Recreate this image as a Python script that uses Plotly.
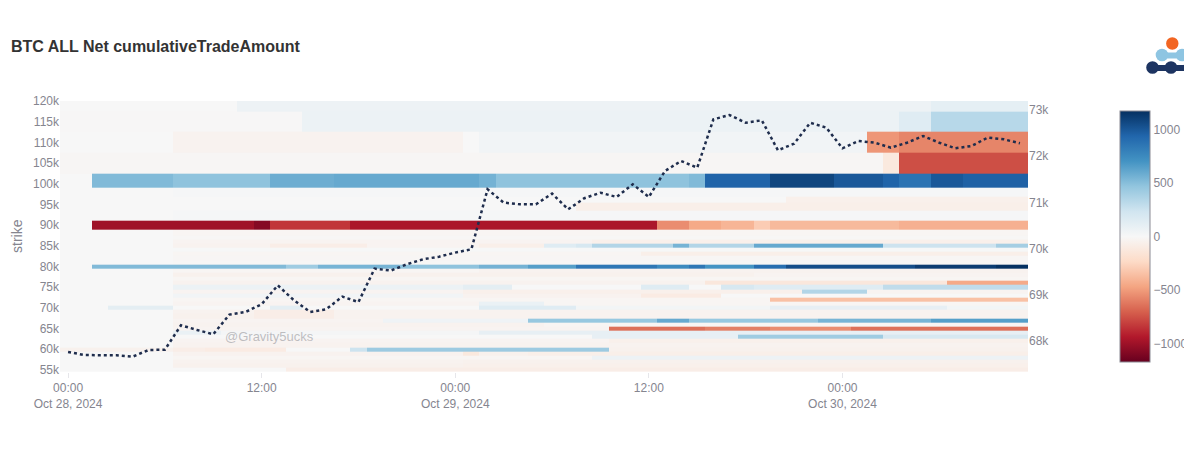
import pandas as pd
import plotly.graph_objects as go

# ---------------- data ----------------
times = pd.date_range("2024-10-28 00:00", periods=60, freq="h")

price = [67762, 67697, 67690, 67690, 67660, 67805, 67810, 68340, 68238, 68145,
         68570, 68628, 68795, 69205, 68880, 68628, 68686, 68960, 68842, 69566,
         69523, 69660, 69768, 69825, 69913, 69985, 71283, 70995, 70958, 70958,
         71190, 70850, 71090, 71210, 71117, 71392, 71117, 71680, 71896, 71752,
         72798, 72892, 72725, 72777, 72128, 72271, 72725, 72617, 72171, 72329,
         72292, 72184, 72292, 72437, 72292, 72171, 72221, 72402, 72366, 72279]

strikes = [120000, 115000, 110000, 105000, 100000, 98000, 96000, 95000, 92000, 90000,
           88000, 87000, 86000, 85000, 84000, 83000, 82000, 81000, 80000, 79000,
           78000, 77000, 76000, 75000, 74000, 73000, 72000, 71000, 70000, 69000,
           68000, 67000, 66000, 65000, 64000, 63000, 62000, 61000, 60000, 59000,
           58000, 57000, 56000, 55000]

# run-length rows: (first hour column, value)
seg_120k = [(0, 0), (11, 60), (54, 110)]
seg_115k = [(0, -5), (15, 70), (52, 150), (54, 330)]
seg_110k = [(0, 0), (7, -40), (25, 0), (26, 40), (50, -520), (52, -580)]
seg_105k = [(0, -15), (51, -120), (52, -760)]
seg_100k = [(0, 0), (2, 520), (7, 480), (13, 580), (17, 600), (26, 560), (27, 480),
            (39, 520), (40, 950), (44, 1080), (48, 1000), (51, 950), (52, 870),
            (54, 1000), (56, 960)]
seg_98k = [(0, 0), (7, 10)]
seg_96k = [(0, 0), (45, -60)]
seg_95k = [(0, 0), (32, -70)]
seg_92k = [(0, 0), (7, 15)]
seg_90k = [(0, 0), (2, -1000), (12, -1080), (13, -840), (18, -960), (37, -550),
           (39, -450), (41, -400), (43, -300), (44, -380), (52, -420)]
seg_88k = [(0, 0), (7, -20)]
seg_87k = [(0, 0), (7, -10)]
seg_86k = [(0, 0), (7, -30), (33, -60)]
seg_85k = [(0, 0), (7, -40), (13, -80), (19, -30), (26, -70), (30, 150), (32, 200),
           (33, 350), (38, 550), (39, 350), (43, 600), (51, 250), (58, 400)]
seg_84k = [(0, 0), (7, 5)]
seg_83k = [(0, 0), (7, -20), (36, -70)]
seg_82k = [(0, 0), (7, -15)]
seg_81k = [(0, 0), (7, -10)]
seg_80k = [(0, 0), (2, 520), (14, 420), (16, 550), (21, 480), (26, 560), (29, 650),
           (32, 850), (37, 750), (39, 850), (40, 700), (43, 900), (45, 1050),
           (53, 1120), (58, 1170)]
seg_79k = [(0, 0), (7, -20), (26, -40)]
seg_78k = [(0, 0), (7, -50), (43, -30)]
seg_77k = [(0, 0), (7, -20)]
seg_76k = [(0, 0), (7, -40), (40, -130), (55, -450)]
seg_75k = [(0, 0), (7, 70), (25, 120), (28, 0), (36, 150), (39, 0), (41, 200),
           (43, 150), (51, 300)]
seg_74k = [(0, 0), (7, -30), (25, -60), (46, 350), (50, -30)]
seg_73k = [(0, 0), (7, 40), (25, -40), (36, -100), (41, 0)]
seg_72k = [(0, 0), (7, -20), (44, -350)]
seg_71k = [(0, 0), (7, -30), (26, 80), (30, -20)]
seg_70k = [(0, 0), (3, 120), (7, 0), (13, 120), (15, 0), (26, 150), (32, 30),
           (44, 100), (55, 30)]
seg_69k = [(0, 0), (7, -40), (12, -80), (17, -40)]
seg_68k = [(0, 0), (7, -50), (12, -80), (17, -40)]
seg_67k = [(0, 0), (7, -30), (20, 50), (29, 450), (37, 600), (39, 450), (47, 550),
           (54, 650)]
seg_66k = [(0, 0), (7, -40), (30, -20)]
seg_65k = [(0, 0), (7, -30), (34, -650), (40, -600), (44, -550), (49, -650)]
seg_64k = [(0, 0), (7, 80), (10, 20), (26, 100)]
seg_63k = [(0, 0), (33, 100), (42, 420), (51, 200)]
seg_62k = [(0, 0), (7, -30), (34, -60)]
seg_61k = [(0, 0), (7, -40)]
seg_60k = [(0, -50), (7, -80), (9, -100), (14, 0), (18, 250), (19, 430), (34, -50)]
seg_59k = [(0, 0), (7, -40), (25, -120), (26, -50), (29, -70)]
seg_58k = [(0, 0), (7, -20), (33, 60)]
seg_57k = [(0, 0), (7, -40), (25, -50)]
seg_56k = [(0, 0), (7, -50), (25, -60)]
seg_55k = [(0, 0), (14, -80)]

rows = [seg_120k, seg_115k, seg_110k, seg_105k, seg_100k, seg_98k, seg_96k, seg_95k,
        seg_92k, seg_90k, seg_88k, seg_87k, seg_86k, seg_85k, seg_84k, seg_83k,
        seg_82k, seg_81k, seg_80k, seg_79k, seg_78k, seg_77k, seg_76k, seg_75k,
        seg_74k, seg_73k, seg_72k, seg_71k, seg_70k, seg_69k, seg_68k, seg_67k,
        seg_66k, seg_65k, seg_64k, seg_63k, seg_62k, seg_61k, seg_60k, seg_59k,
        seg_58k, seg_57k, seg_56k, seg_55k]

zlimit = 1174
rdbu = ['rgb(103,0,31)', 'rgb(178,24,43)', 'rgb(214,96,77)', 'rgb(244,165,130)',
        'rgb(253,219,199)', 'rgb(247,247,247)', 'rgb(209,229,240)', 'rgb(146,197,222)',
        'rgb(67,147,195)', 'rgb(33,102,172)', 'rgb(5,48,97)']


def expand(segs, n):
    out = []
    for i, (start, val) in enumerate(segs):
        end = segs[i + 1][0] if i + 1 < len(segs) else n
        out.extend([val] * (end - start))
    return out


Z = [expand(s, len(times)) for s in rows]

# ---------------- figure ----------------
GREY = '#85858f'
FONT = 'Liberation Sans, Arial, sans-serif'

OX, OY = 8, 7                      # page offset of the plot div
W, H = 1192, 450
L, T = 60 - OX, 100 - OY           # plot area in page px: x 60..1028, y 100..371
R = W - (1028 - OX)
B = H - (371 - OY)
pw, ph = W - L - R, H - T - B


def px(x):
    return (x - OX - L) / pw


def py(y):
    return (H - B - (y - OY)) / ph


fig = go.Figure()
fig.add_trace(go.Heatmap(
    x=times, y=strikes, z=Z,
    colorscale=[[i / 10, c] for i, c in enumerate(rdbu)],
    zmin=-zlimit, zmax=zlimit,
    colorbar=dict(x=px(1110), xanchor='left', thickness=30, xpad=10,
                  len=1, ypad=10,
                  outlinewidth=1, outlinecolor='#8a8a94',
                  tickfont=dict(color=GREY, size=12, family=FONT)),
))
fig.add_trace(go.Scatter(
    x=times, y=price, yaxis='y2', mode='lines',
    line=dict(color='#1f2d4d', width=2.5, dash='dot'),
    showlegend=False,
))

shapes = []


def circ(cx, cy, r, color):
    shapes.append(dict(type='circle', xref='paper', yref='paper',
                       x0=px(cx - r), x1=px(cx + r), y0=py(cy + r), y1=py(cy - r),
                       fillcolor=color, line=dict(width=0), layer='above'))


def rect(x0, x1, y0, y1, color):
    shapes.append(dict(type='rect', xref='paper', yref='paper',
                       x0=px(x0), x1=px(x1), y0=py(y1), y1=py(y0),
                       fillcolor=color, line=dict(width=0), layer='above'))


ORANGE, LBLUE, NAVY = '#f26522', '#8ec5e2', '#1d3461'
circ(1172.3, 42.5, 6.2, ORANGE)
circ(1162.0, 54.0, 6.3, LBLUE)
circ(1182.0, 54.0, 6.3, LBLUE)
rect(1162, 1182, 51.5, 57.5, LBLUE)
circ(1152.5, 66.5, 6.3, NAVY)
circ(1171.0, 66.5, 6.3, NAVY)
circ(1189.5, 66.5, 6.3, NAVY)
rect(1152, 1190, 64.0, 70.0, NAVY)

fig.update_layout(
    width=W, height=H,
    margin=dict(l=L, r=R, t=T, b=B, autoexpand=False),
    paper_bgcolor='white', plot_bgcolor='white',
    font=dict(family=FONT, color=GREY, size=12),
    xaxis=dict(range=[pd.Timestamp('2024-10-27 23:30'), pd.Timestamp('2024-10-30 11:30')],
               dtick=12 * 3600 * 1000, showgrid=False, zeroline=False, automargin=False,
               ticks='outside', ticklen=5, tickcolor='#e6e6ea',
               tickfont=dict(color=GREY, size=12)),
    yaxis=dict(range=[54500, 120000], dtick=5000, tickformat='~s', automargin=False,
               showgrid=False, zeroline=False, ticks='',
               tickfont=dict(color=GREY, size=12)),
    yaxis2=dict(overlaying='y', side='right', range=[67328, 73195], dtick=1000,
                tickformat='~s', showgrid=False, zeroline=False, ticks='', automargin=False,
                tickfont=dict(color=GREY, size=12)),
    shapes=shapes,
    annotations=[
        dict(text='<b>BTC ALL Net cumulativeTradeAmount</b>', xref='paper', yref='paper',
             x=px(9), y=py(45), xanchor='left', yanchor='middle', showarrow=False,
             font=dict(size=16, color='#333333', family=FONT)),
        dict(text='strike', xref='paper', yref='paper', textangle=-90,
             x=px(17), y=py(235), xanchor='center', yanchor='middle', showarrow=False,
             font=dict(size=14, color=GREY, family=FONT)),
        dict(text='@Gravity5ucks', xref='paper', yref='paper',
             x=px(223), y=py(335), xanchor='left', yanchor='middle',
             showarrow=False,
             font=dict(size=13, color='rgba(150,150,155,0.6)', family=FONT)),
    ],
)

fig.write_html('out.html')
